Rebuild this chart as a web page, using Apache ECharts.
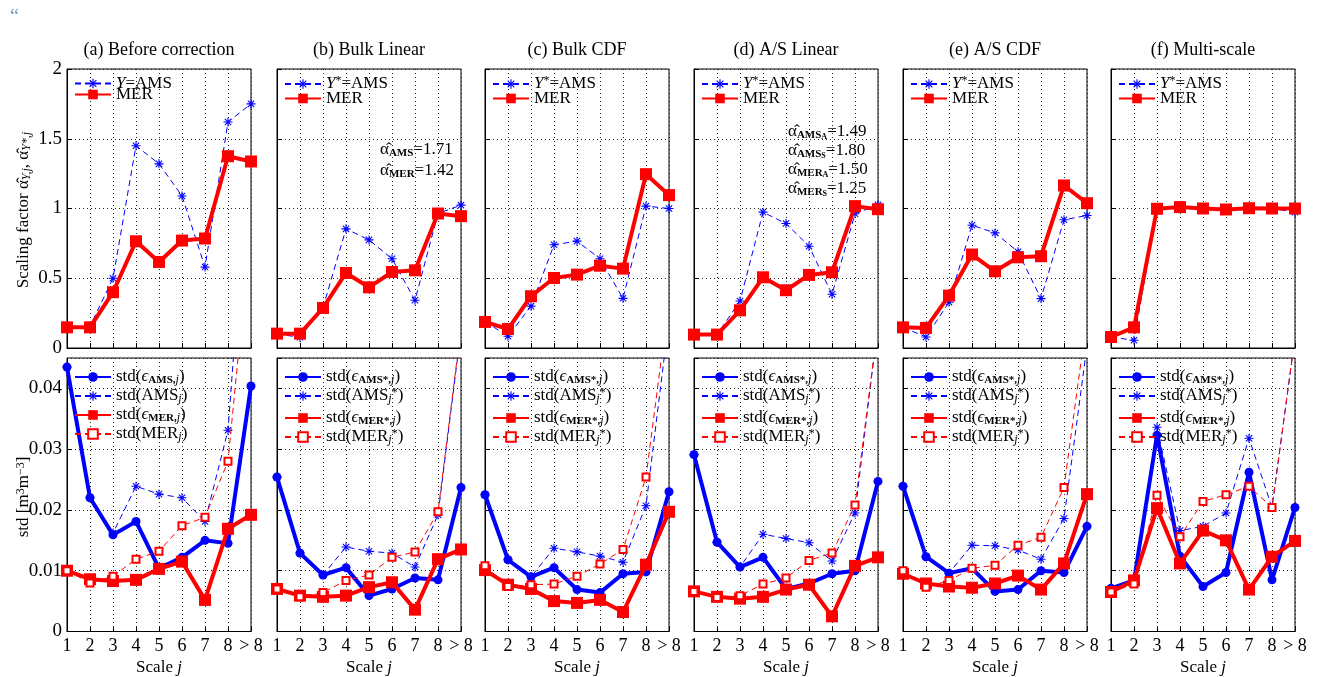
<!DOCTYPE html>
<html>
<head>
<meta charset="utf-8">
<script src="https://cdn.jsdelivr.net/npm/echarts@6/dist/echarts.min.js"></script>
<style>
  html, body { margin: 0; padding: 0; background: #fff; }
  #chart { width: 1329px; height: 677px; }
</style>
</head>
<body>
<div id="chart"></div>
<script>
// scale categories
const scales = ['1', '2', '3', '4', '5', '6', '7', '8', '> 8']

// top row: scaling factors
const alphaAmsA = [0.15, 0.155, 0.50, 1.45, 1.32, 1.09, 0.58, 1.62, 1.75]
const alphaMerA = [0.148, 0.148, 0.40, 0.765, 0.617, 0.77, 0.785, 1.375, 1.337]
const alphaAmsB = [0.10, 0.077, 0.29, 0.854, 0.775, 0.64, 0.342, 0.964, 1.024]
const alphaMerB = [0.103, 0.103, 0.287, 0.538, 0.435, 0.545, 0.557, 0.964, 0.945]
const alphaAmsC = [0.19, 0.084, 0.30, 0.74, 0.766, 0.64, 0.356, 1.017, 1.0]
const alphaMerC = [0.187, 0.136, 0.371, 0.502, 0.526, 0.59, 0.569, 1.246, 1.096]
const alphaAmsD = [0.096, 0.096, 0.337, 0.974, 0.892, 0.73, 0.385, 0.962, 1.026]
const alphaMerD = [0.096, 0.096, 0.27, 0.507, 0.414, 0.524, 0.543, 1.017, 0.995]
const alphaAmsE = [0.148, 0.079, 0.328, 0.88, 0.825, 0.69, 0.354, 0.919, 0.95]
const alphaMerE = [0.148, 0.144, 0.376, 0.67, 0.55, 0.65, 0.658, 1.165, 1.038]
const alphaAmsF = [0.079, 0.055, 0.998, 1.01, 1.0, 0.993, 1.002, 1.0, 0.974]
const alphaMerF = [0.079, 0.148, 0.998, 1.01, 1.0, 0.993, 1.002, 1.0, 1.0]

// bottom row: standard deviations
const epsAmsA = [0.0435, 0.022, 0.0159, 0.0181, 0.0104, 0.0122, 0.015, 0.0145, 0.0404]
const stdAmsA = [0.0435, 0.022, 0.0162, 0.0239, 0.0226, 0.022, 0.0181, 0.0331, 0.084]
const epsMerA = [0.01, 0.0086, 0.0083, 0.0085, 0.0103, 0.0115, 0.0052, 0.0169, 0.0192]
const stdMerA = [0.01, 0.008, 0.0091, 0.0119, 0.0132, 0.0174, 0.0188, 0.028, 0.067]
const epsAmsB = [0.0254, 0.0129, 0.0093, 0.0105, 0.0059, 0.007, 0.0088, 0.0085, 0.0237]
const stdAmsB = [0.0254, 0.0129, 0.0093, 0.0139, 0.0132, 0.0129, 0.0106, 0.0192, 0.0496]
const epsMerB = [0.007, 0.0059, 0.0057, 0.0059, 0.0073, 0.0081, 0.0036, 0.0119, 0.0135]
const stdMerB = [0.007, 0.0057, 0.0064, 0.0084, 0.0093, 0.0122, 0.0131, 0.0197, 0.05]
const epsAmsC = [0.0225, 0.0118, 0.009, 0.0105, 0.0069, 0.0064, 0.0095, 0.0098, 0.023]
const stdAmsC = [0.0225, 0.0118, 0.009, 0.0137, 0.0131, 0.0124, 0.0114, 0.0207, 0.0515]
const epsMerC = [0.0101, 0.0077, 0.007, 0.005, 0.0047, 0.0052, 0.0032, 0.011, 0.0197]
const stdMerC = [0.0108, 0.0074, 0.0077, 0.0078, 0.0091, 0.0111, 0.0135, 0.0254, 0.0546]
const epsAmsD = [0.0291, 0.0147, 0.0106, 0.0122, 0.007, 0.0079, 0.0095, 0.01, 0.0247]
const stdAmsD = [0.0291, 0.0147, 0.0106, 0.016, 0.0153, 0.0146, 0.0116, 0.0195, 0.0506]
const epsMerD = [0.0066, 0.0057, 0.0054, 0.0057, 0.0069, 0.0077, 0.0025, 0.0108, 0.0122]
const stdMerD = [0.0066, 0.0056, 0.0059, 0.0078, 0.0088, 0.0117, 0.0129, 0.0208, 0.0506]
const epsAmsE = [0.0239, 0.0123, 0.0096, 0.0104, 0.0066, 0.0069, 0.01, 0.0097, 0.0173]
const stdAmsE = [0.0239, 0.0123, 0.0096, 0.0142, 0.0141, 0.0134, 0.0119, 0.0186, 0.047]
const epsMerE = [0.0095, 0.0079, 0.0074, 0.0072, 0.0079, 0.0092, 0.0069, 0.0112, 0.0226]
const stdMerE = [0.01, 0.0073, 0.0084, 0.0104, 0.0109, 0.0142, 0.0155, 0.0237, 0.0517]
const epsAmsF = [0.0071, 0.0084, 0.0323, 0.0124, 0.0074, 0.0097, 0.0262, 0.0085, 0.0204]
const stdAmsF = [0.0071, 0.0084, 0.0336, 0.0166, 0.0173, 0.0195, 0.0318, 0.0204, 0.0484]
const epsMerF = [0.0065, 0.0084, 0.0203, 0.0112, 0.0166, 0.015, 0.0069, 0.0123, 0.0149]
const stdMerF = [0.0065, 0.0078, 0.0224, 0.0156, 0.0214, 0.0225, 0.0239, 0.0204, 0.0484]

const panelTitles = ['(a) Before correction', '(b) Bulk Linear', '(c) Bulk CDF',
  '(d) A/S Linear', '(e) A/S CDF', '(f) Multi-scale']

const panels = [
  { top: [alphaAmsA, alphaMerA], bottom: [epsAmsA, stdAmsA, epsMerA, stdMerA] },
  { top: [alphaAmsB, alphaMerB], bottom: [epsAmsB, stdAmsB, epsMerB, stdMerB] },
  { top: [alphaAmsC, alphaMerC], bottom: [epsAmsC, stdAmsC, epsMerC, stdMerC] },
  { top: [alphaAmsD, alphaMerD], bottom: [epsAmsD, stdAmsD, epsMerD, stdMerD] },
  { top: [alphaAmsE, alphaMerE], bottom: [epsAmsE, stdAmsE, epsMerE, stdMerE] },
  { top: [alphaAmsF, alphaMerF], bottom: [epsAmsF, stdAmsF, epsMerF, stdMerF] }
]

const FONT = 'Liberation Serif'
const BLUE = '#0000ff'
const RED = '#ff0000'
// matlab style '*' marker
const ASTERISK = 'path://M-5,-0.6L5,-0.6L5,0.6L-5,0.6Z' +
  'M-0.6,-5L0.6,-5L0.6,5L-0.6,5Z' +
  'M-3.08,-3.92L3.92,3.08L3.08,3.92L-3.92,-3.08Z' +
  'M-3.92,3.08L3.08,-3.92L3.92,-3.08L-3.08,3.92Z'

const panelLeft = [67, 277, 485, 694, 903, 1111]
const panelWidth = 184
const rowTop = [69, 358]
const rowHeight = 279

const rich = {
  n: { fontFamily: FONT, fontSize: 17, color: '#000', lineHeight: 18 },
  i: { fontFamily: FONT, fontSize: 17, color: '#000', fontStyle: 'italic', lineHeight: 18 },
  sb: { fontFamily: FONT, fontSize: 11, fontWeight: 'bold', color: '#000', lineHeight: 10, verticalAlign: 'bottom', padding: [9, 0, 0, 0] },
  sbi: { fontFamily: FONT, fontSize: 12, fontStyle: 'italic', color: '#000', lineHeight: 10, verticalAlign: 'bottom', padding: [9, 0, 0, 0] },
  ssb: { fontFamily: FONT, fontSize: 8, fontWeight: 'bold', color: '#000', lineHeight: 7, verticalAlign: 'bottom', padding: [12, 0, 0, 0] },
  sp: { fontFamily: FONT, fontSize: 12, color: '#000', lineHeight: 10, verticalAlign: 'top', padding: [0, 0, 9, 0] }
}

const labels = {
  topAms0: '{i|Y}{n|=AMS}',
  topAmsS: '{i|Y}{sp|*}{n|=AMS}',
  topMer: '{n|MER}',
  epsAms0: '{n|std(}{i|ϵ}{sb|AMS,}{sbi|j}{n|)}',
  stdAms0: '{n|std(AMS}{sbi|j}{n|)}',
  epsMer0: '{n|std(}{i|ϵ}{sb|MER,}{sbi|j}{n|)}',
  stdMer0: '{n|std(MER}{sbi|j}{n|)}',
  epsAmsS: '{n|std(}{i|ϵ}{sb|AMS*,}{sbi|j}{n|)}',
  stdAmsS: '{n|std(AMS}{sbi|j}{sp|*}{n|)}',
  epsMerS: '{n|std(}{i|ϵ}{sb|MER*,}{sbi|j}{n|)}',
  stdMerS: '{n|std(MER}{sbi|j}{sp|*}{n|)}'
}

const grid = []
const xAxis = []
const yAxis = []
const series = []
const legend = []
const graphic = []

const dashed = [6, 4]

function thinStar(name, idx, data) {
  return {
    name: name, type: 'line', xAxisIndex: idx, yAxisIndex: idx, data: data,
    symbol: ASTERISK, symbolSize: 9, z: 2,
    lineStyle: { color: BLUE, width: 1, type: dashed },
    itemStyle: { color: BLUE }
  }
}
function thickSquare(name, idx, data) {
  return {
    name: name, type: 'line', xAxisIndex: idx, yAxisIndex: idx, data: data,
    symbol: 'rect', symbolSize: 12, z: 4,
    lineStyle: { color: RED, width: 4 },
    itemStyle: { color: RED }
  }
}

panels.forEach((p, i) => {
  const star = i === 0 ? '0' : 'S'
  for (let r = 0; r < 2; r++) {
    const idx = i * 2 + r
    grid.push({
      left: panelLeft[i], top: rowTop[r], width: panelWidth, height: rowHeight,
      show: true, borderColor: '#000', borderWidth: 1, backgroundColor: '#fff'
    })
    xAxis.push({
      type: 'category', gridIndex: idx, data: scales, boundaryGap: false,
      axisLine: { lineStyle: { color: '#000', width: 1 } },
      axisTick: { inside: true, length: 5, interval: 0, lineStyle: { color: '#000' } },
      axisLabel: { show: r === 1, interval: 0, color: '#000', fontFamily: FONT, fontSize: 18, margin: 6 },
      splitLine: { show: true, interval: 0, lineStyle: { color: '#222', type: [1, 3] } },
      name: r === 1 ? '{n|Scale }{i|j}' : '',
      nameLocation: 'middle', nameGap: 27,
      nameTextStyle: { rich: rich }
    })
    yAxis.push({
      type: 'value', gridIndex: idx,
      min: 0, max: r === 0 ? 2 : 0.045, interval: r === 0 ? 0.5 : 0.01,
      axisLine: { show: true, lineStyle: { color: '#000', width: 1 } },
      axisTick: { show: true, inside: true, length: 5, lineStyle: { color: '#000' } },
      axisLabel: { show: i === 0, color: '#000', fontFamily: FONT, fontSize: 19, margin: 5, showMaxLabel: r === 0 },
      splitLine: { show: true, lineStyle: { color: '#222', type: [1, 3] } }
    })

    if (r === 0) {
      series.push(thinStar('topAms' + star, idx, p.top[0]))
      series.push(thickSquare('topMer', idx, p.top[1]))
      legend.push({
        orient: 'vertical', left: panelLeft[i] + 7, top: rowTop[r] + 6, padding: 0,
        itemGap: -6, itemWidth: 36, itemHeight: 12, selectedMode: false,
        data: ['topAms' + star, 'topMer'],
        formatter: name => labels[name],
        textStyle: { rich: rich }
      })
    } else {
      series.push({
        name: 'epsAms' + star, type: 'line', xAxisIndex: idx, yAxisIndex: idx, data: p.bottom[0],
        symbol: 'circle', symbolSize: 9, z: 3,
        lineStyle: { color: BLUE, width: 4 }, itemStyle: { color: BLUE }
      })
      series.push(thinStar('stdAms' + star, idx, p.bottom[1]))
      series.push(thickSquare('epsMer' + star, idx, p.bottom[2]))
      series.push({
        name: 'stdMer' + star, type: 'line', xAxisIndex: idx, yAxisIndex: idx, data: p.bottom[3],
        symbol: 'emptyRect', symbolSize: 7, z: 5,
        lineStyle: { color: RED, width: 1, type: dashed }, itemStyle: { color: RED, borderWidth: 1 }
      })
      legend.push({
        orient: 'vertical', left: panelLeft[i] + 7, top: rowTop[r] + 7, padding: 0,
        itemGap: -2, itemWidth: 36, itemHeight: 12, selectedMode: false,
        data: ['epsAms' + star, 'stdAms' + star, 'epsMer' + star, 'stdMer' + star],
        formatter: name => labels[name],
        textStyle: { rich: rich }
      })
    }
  }
  graphic.push({
    type: 'text', x: panelLeft[i] + panelWidth / 2, y: 50,
    style: { text: panelTitles[i], font: '18px "' + FONT + '"', fill: '#000', align: 'center', verticalAlign: 'middle' }
  })
})

// fitted exponents
function alphaText(x, y, txt) {
  graphic.push({ type: 'text', x: x, y: y, style: { text: txt, rich: rich, align: 'left', verticalAlign: 'middle' } })
}
alphaText(380, 150, '{n|α̂}{sb|AMS}{n|=1.71}')
alphaText(380, 171, '{n|α̂}{sb|MER}{n|=1.42}')
alphaText(788, 132, '{n|α̂}{sb|AMS}{ssb|A}{n|=1.49}')
alphaText(788, 151, '{n|α̂}{sb|AMS}{ssb|S}{n|=1.80}')
alphaText(788, 170, '{n|α̂}{sb|MER}{ssb|A}{n|=1.50}')
alphaText(788, 189, '{n|α̂}{sb|MER}{ssb|S}{n|=1.25}')

// y axis names
graphic.push({
  type: 'text', x: 24, y: 210, rotation: Math.PI / 2,
  style: { text: '{n|Scaling factor α̂}{sbi|Y,j}{n|, α̂}{sbi|Y*,j}', rich: rich, align: 'center', verticalAlign: 'middle' }
})
graphic.push({
  type: 'text', x: 24, y: 497, rotation: Math.PI / 2,
  style: { text: '{n|std [m}{sp|3}{n|m}{sp|−3}{n|]}', rich: rich, align: 'center', verticalAlign: 'middle' }
})
graphic.push({
  type: 'text', x: 10, y: 8,
  style: { text: '“', font: '20px "' + FONT + '"', fill: '#6a9cc4' }
})

const chart = echarts.init(document.getElementById('chart'))
chart.setOption({
  backgroundColor: '#fff',
  animation: false,
  grid: grid,
  xAxis: xAxis,
  yAxis: yAxis,
  legend: legend,
  series: series,
  graphic: graphic
})
</script>
</body>
</html>
